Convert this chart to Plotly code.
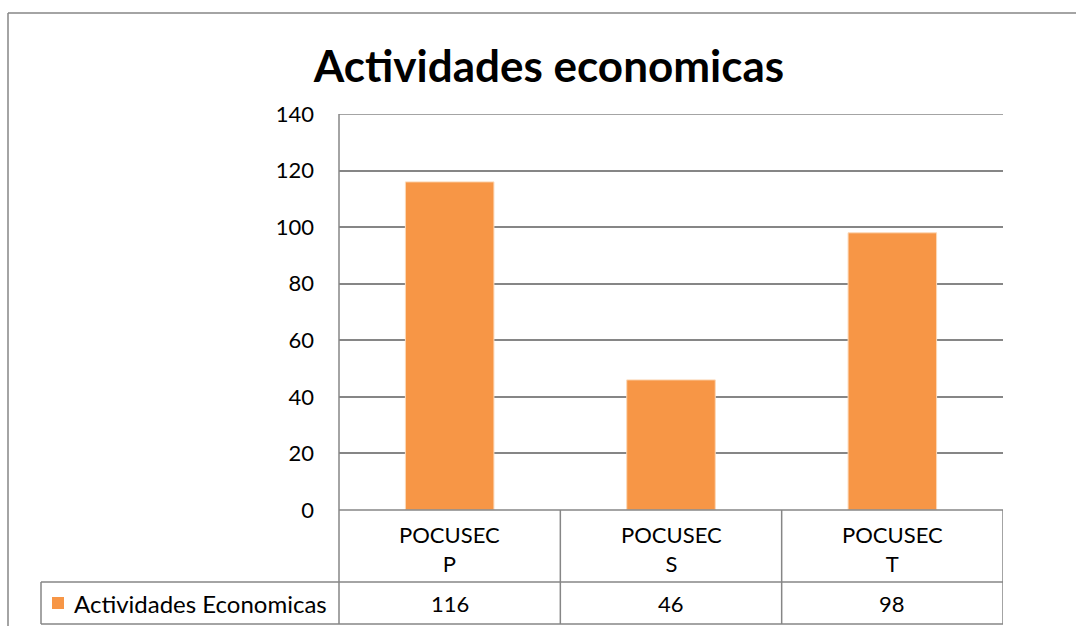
import plotly.graph_objects as go

categories = ["POCUSECP", "POCUSECS", "POCUSECT"]
category_labels = ["POCUSEC<br>P", "POCUSEC<br>S", "POCUSEC<br>T"]
values = [116, 46, 98]
series_name = "Actividades Economicas"
title_text = "Actividades economicas"
y_ticks = [0, 20, 40, 60, 80, 100, 120, 140]

W, H = 1076, 626
L, R, T, B = 339, 1003, 114, 510  # plot area in px
GRAY = "#868686"
ORANGE = "#F79646"
FONT = "Lato"
FS = 22

def px(xp):
    return (xp - L) / (R - L)

def py(yp):
    return (B - yp) / (B - T)

fig = go.Figure()
fig.add_trace(go.Bar(
    x=categories, y=values, name=series_name,
    marker=dict(color=ORANGE, line=dict(color="#FCD9B8", width=1)),
    width=0.4, showlegend=False,
))

shapes = []
line = dict(color=GRAY, width=1.5)
# outer chart border (left + top)
shapes.append(dict(type="line", xref="paper", yref="paper", x0=px(8), x1=px(8), y0=py(13), y1=py(640), line=line))
shapes.append(dict(type="line", xref="paper", yref="paper", x0=px(8), x1=px(1080), y0=py(13), y1=py(13), line=line))
# top gridline
shapes.append(dict(type="line", xref="paper", yref="y", x0=0, x1=1, y0=y_ticks[-1], y1=y_ticks[-1], line=line))
# data table
shapes.append(dict(type="line", xref="paper", yref="paper", x0=0, x1=1, y0=0, y1=0, line=line))
shapes.append(dict(type="line", xref="paper", yref="paper", x0=px(41), x1=1, y0=py(582), y1=py(582), line=line))
shapes.append(dict(type="line", xref="paper", yref="paper", x0=px(41), x1=1, y0=py(624), y1=py(624), line=line))
shapes.append(dict(type="line", xref="paper", yref="paper", x0=px(41), x1=px(41), y0=py(582), y1=py(624), line=line))
shapes.append(dict(type="line", xref="paper", yref="paper", x0=0, x1=0, y0=1, y1=py(624), line=line))
for k in range(1, len(categories) + 1):
    shapes.append(dict(type="line", xref="x", yref="paper", x0=k - 0.5, x1=k - 0.5,
                       y0=0, y1=py(624), line=line))
# legend key in table
shapes.append(dict(type="rect", xref="paper", yref="paper", x0=px(52), x1=px(64), y0=py(597), y1=py(609),
                   fillcolor=ORANGE, line=dict(width=0)))

annotations = []
annotations.append(dict(x=px(72), xref="paper", y=py(603), yref="paper", text=series_name,
                        showarrow=False, font=dict(family=FONT, size=24, color="#000"),
                        xanchor="left", yanchor="middle"))
for c, v in zip(categories, values):
    annotations.append(dict(x=c, xref="x", y=py(603), yref="paper", text=str(v),
                            showarrow=False, font=dict(family=FONT, size=FS, color="#000"),
                            xanchor="center", yanchor="middle"))
for c, lab in zip(categories, category_labels):
    annotations.append(dict(x=c, xref="x", y=py(549), yref="paper", text=lab,
                            showarrow=False, font=dict(family=FONT, size=FS, color="#000"),
                            xanchor="center", yanchor="middle", align="center"))

fig.update_layout(
    width=W, height=H,
    margin=dict(l=L, r=W - R, t=T, b=H - B, pad=0),
    paper_bgcolor="white", plot_bgcolor="white",
    title=dict(text="<b>" + title_text + "</b>", x=549 / W, xanchor="center",
               y=1 - 67 / H, yanchor="middle", yref="container",
               font=dict(family=FONT, size=44, color="#000")),
    bargap=0.6,
    xaxis=dict(range=[-0.5, 2.5], showticklabels=False, showgrid=False, zeroline=False,
               showline=False, fixedrange=True),
    yaxis=dict(range=[0, 140], tickvals=y_ticks, showgrid=True, gridcolor=GRAY, gridwidth=1.5,
               zeroline=False, showline=False, ticks="", ticklabelstandoff=24,
               tickfont=dict(family=FONT, size=FS, color="#000")),
    showlegend=False,
    shapes=shapes,
    annotations=annotations,
    font=dict(family=FONT),
)

fig.write_html("out.html", post_script="document.body.style.margin='0px';",
               config={"displayModeBar": False})
